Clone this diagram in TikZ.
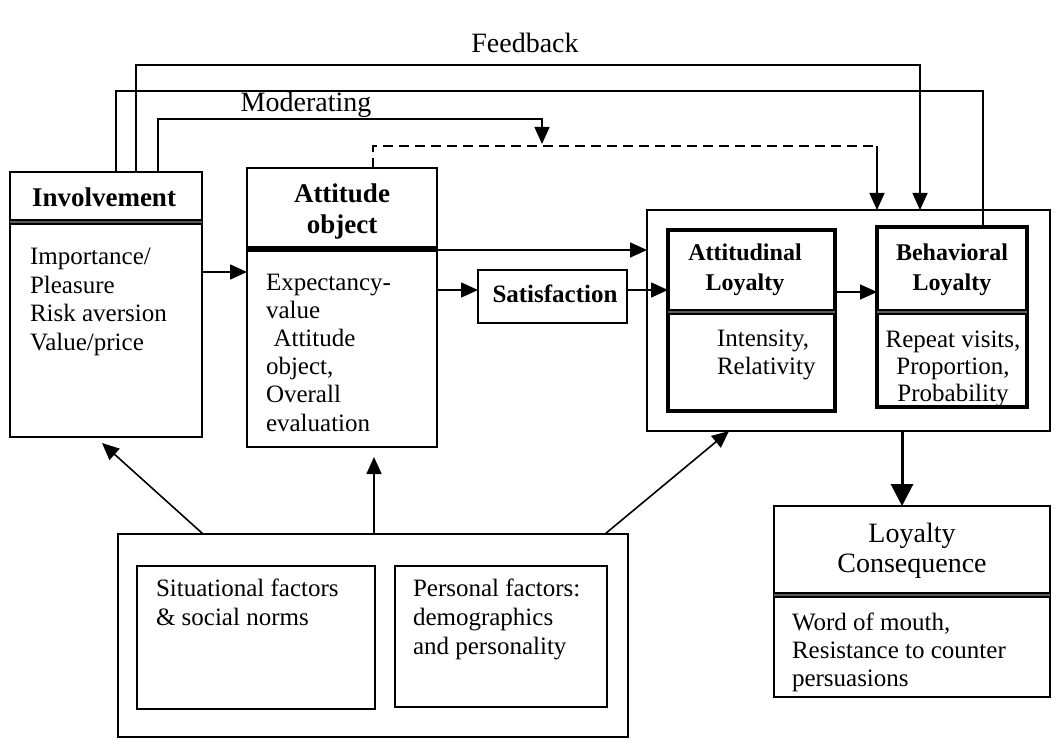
\documentclass[tikz,border=0pt]{standalone}
\usepackage{fontspec}
\setmainfont{Liberation Serif}
\usetikzlibrary{arrows.meta}

% strut that fixes the height of the first text line
\newcommand\firstline{\rule{0pt}{11pt}}

\begin{document}
\begin{tikzpicture}[x=0.5pt,y=-0.5pt,
  box/.style={draw, line width=0.9pt, inner sep=0pt, outer sep=0pt, anchor=north west},
  loybox/.style={box, line width=1.6pt},
  sepline/.style={line width=1pt, double=gray!70!black, double distance=1pt},
  link/.style={line width=0.8pt},
  conn/.style={link, -{Triangle[length=8.5pt,width=7.5pt]}},
  bigconn/.style={line width=1.5pt, -{Triangle[length=11pt,width=11pt]}},
  dashconn/.style={line width=1pt, dash pattern=on 5pt off 3pt},
  body/.style={inner sep=0pt, outer sep=0pt, font=\fontsize{12.5}{14.2}\selectfont, align=left, anchor=north west},
  bodyc/.style={body, align=center, anchor=north},
  head/.style={inner sep=0pt, outer sep=0pt, font=\fontsize{13.5}{15.5}\selectfont\bfseries, align=center, anchor=north},
  loyhead/.style={head, font=\fontsize{12}{15}\selectfont\bfseries},
  label/.style={inner sep=0pt, outer sep=0pt, font=\fontsize{14}{16}\selectfont, anchor=base}
]
\useasboundingbox (0,0) rectangle (1064,753);

% ---------- boxes ----------
\node[box, minimum width=96pt, minimum height=132.5pt] (inv) at (10,172) {};
\node[box, minimum width=95pt, minimum height=139.5pt] (att) at (247,168) {};
\node[box, minimum width=74.5pt, minimum height=26.5pt] (sat) at (478,270) {};
\node[box, line width=1pt, minimum width=201.5pt, minimum height=110.5pt] (loy) at (647,210) {};
\node[loybox, minimum width=83.5pt, minimum height=90.5pt] (atl) at (668,230) {};
\node[loybox, minimum width=75pt, minimum height=90pt] (bel) at (877,227) {};
\node[box, minimum width=138pt, minimum height=95.5pt] (cons) at (774,506) {};
\node[box, minimum width=255pt, minimum height=101.5pt] (fac) at (118,534) {};
\node[box, minimum width=119pt, minimum height=71.5pt] (sit) at (137,566) {};
\node[box, minimum width=106pt, minimum height=70.5pt] (per) at (395,566) {};

% ---------- header separators ----------
\draw[sepline] ([yshift=-25pt]inv.north west) -- ([yshift=-25pt]inv.north east);
\draw[line width=3pt] ([yshift=-40.5pt]att.north west) -- ([yshift=-40.5pt]att.north east);
\draw[sepline] ([yshift=-41pt]atl.north west) -- ([yshift=-41pt]atl.north east);
\draw[sepline] ([yshift=-42.5pt]bel.north west) -- ([yshift=-42.5pt]bel.north east);
\draw[sepline] ([yshift=-44.5pt]cons.north west) -- ([yshift=-44.5pt]cons.north east);

% ---------- texts ----------
\node[head] (invhead) at (104,185) {\firstline Involvement};
\node[body] (invbody) at (30,243) {\firstline Importance/\\Pleasure\\Risk aversion\\Value/price};

\node[head] (atthead) at (342,181) {\firstline Attitude\\object};
\node[body, font=\fontsize{12.5}{14.1}\selectfont] (attbody) at (266,268)
  {\firstline Expectancy-\\value\\\hspace*{0.3em}Attitude\\object,\\Overall\\evaluation};

\node[inner sep=0pt, font=\fontsize{12.5}{15}\selectfont\bfseries, anchor=base] (sattxt) at (555,303) {Satisfaction};

\node[loyhead] (atlhead) at (745,239) {\firstline Attitudinal\\Loyalty};
\node[body, font=\fontsize{12.5}{13.5}\selectfont] (atlbody) at (717,325) {\firstline Intensity,\\Relativity};

\node[loyhead] (belhead) at (952,239) {\firstline Behavioral\\Loyalty};
\node[bodyc, font=\fontsize{12.5}{13.5}\selectfont] (belbody) at (953,325) {\firstline Repeat visits,\\Proportion,\\Probability};

\node[head, font=\fontsize{14}{15}\selectfont] (conshead) at (912,520) {\firstline Loyalty\\Consequence};
\node[body, font=\fontsize{12.5}{14}\selectfont] (consbody) at (792,608)
  {\firstline Word of mouth,\\Resistance to counter\\persuasions};

\node[body, font=\fontsize{12.5}{14.5}\selectfont] (sittxt) at (156,574) {\firstline Situational factors\\\& social norms};
\node[body, font=\fontsize{12.5}{14.5}\selectfont] (pertxt) at (413,574) {\firstline Personal factors:\\demographics\\and personality};

\node[label] (fbtxt) at (525,53) {Feedback};
\node[label] (mdtxt) at (306,112) {Moderating};

% ---------- level coordinates ----------
\coordinate (yIA) at (0,272);
\coordinate (yTop) at (0,250);
\coordinate (yS) at (0,290);
\coordinate (yAB) at (0,292);
\coordinate (cx) at (902,0);

% ---------- main flow ----------
\draw[conn] (inv.east |- yIA) -- (att.west |- yIA);
\draw[conn] (att.east |- yTop) -- (loy.west |- yTop);
\draw[conn] (att.east |- yS) -- (sat.west |- yS);
\draw[conn] (sat.east |- yS) -- (atl.west |- yS);
\draw[conn] (atl.east |- yAB) -- (bel.west |- yAB);
\draw[bigconn] (loy.south -| cx) -- (cons.north -| cx);

% ---------- factors acting on the model ----------
\coordinate (f1) at (203,534);
\coordinate (t1) at (102,443);
\coordinate (f2) at (374,534);
\coordinate (t2) at (374,457);
\coordinate (f3) at (605,534);
\coordinate (t3) at (729,431);
\draw[conn] (fac.north -| f1) -- (t1);
\draw[conn] (fac.north -| f2) -- (t2);
\draw[conn] (fac.north -| f3) -- (loy.south -| t3);

% ---------- feedback loops ----------
\coordinate (fbL) at (136,65);
\coordinate (fbR) at (920,65);
\draw[conn] (inv.north -| fbL) -- (fbL) -- (fbR) -- (loy.north -| fbR);

\coordinate (bkL) at (116,91);
\coordinate (bkR) at (983,91);
\draw[link] (bel.north -| bkR) -- (bkR) -- (bkL) -- (inv.north -| bkL);

% ---------- moderating effect ----------
\coordinate (mdL) at (158,119);
\coordinate (mdR) at (542,119);
\coordinate (mdT) at (542,144);
\draw[conn] (inv.north -| mdL) -- (mdL) -- (mdR) -- (mdT);

\coordinate (dsL) at (373,146);
\coordinate (dsR) at (877,146);
\draw[dashconn] (att.north -| dsL) -- (dsL) -- (dsR);
\draw[conn] (dsR) -- (loy.north -| dsR);
\end{tikzpicture}
\end{document}
